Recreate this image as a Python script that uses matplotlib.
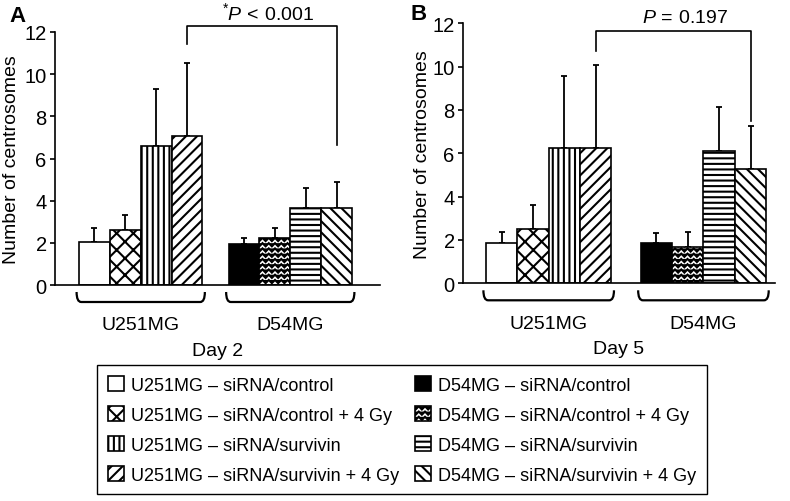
import warnings
import numpy as np
import matplotlib
matplotlib.use("Agg")
import matplotlib.pyplot as plt
import matplotlib.hatch as mhatch
from matplotlib.path import Path
from matplotlib.patches import Patch, PathPatch

warnings.filterwarnings("ignore")

plt.rcParams["font.family"] = ["Liberation Sans", "DejaVu Sans"]
plt.rcParams["mathtext.fontset"] = "custom"
plt.rcParams["mathtext.rm"] = "Liberation Sans"
plt.rcParams["mathtext.it"] = "Liberation Sans:italic"
plt.rcParams["hatch.linewidth"] = 1.5

# data
cell_lines = ["U251MG", "D54MG"]
conditions = ["siRNA/control", "siRNA/control + 4 Gy", "siRNA/survivin", "siRNA/survivin + 4 Gy"]
day2_mean = [2.06, 2.63, 6.59, 7.09, 1.95, 2.25, 3.64, 3.64]
day2_err = [0.63, 0.69, 2.72, 3.45, 0.30, 0.44, 0.98, 1.24]
day5_mean = [1.85, 2.51, 6.25, 6.25, 1.85, 1.66, 6.12, 5.28]
day5_err = [0.53, 1.12, 3.33, 3.83, 0.46, 0.72, 2.00, 1.97]
day_labels = ["Day 2", "Day 5"]
p_texts = [r"$^{*}\mathit{P}\,<\,0.001$", r"$\mathit{P}\,=\,0.197$"]

fills = ["white", "white", "white", "white", "black", "white", "white", "white"]
hatches = ["", "xx", "|||", "///", "", "z", "---", "\\\\\\"]


# zigzag hatch ('z'), not built in to matplotlib
class ZigzagHatch(mhatch.HatchPatternBase):
    def __init__(self, hatch, density):
        self.rows = 19 if "z" in hatch else 0
        self.zigs = 16
        self.num_vertices = self.rows * (2 * self.zigs + 1)

    def set_vertices_and_codes(self, vertices, codes):
        n = 2 * self.zigs + 1
        xs = np.linspace(0, 1, n)
        wig = np.where(np.arange(n) % 2 == 0, 0.016, -0.016)
        for i in range(self.rows):
            y = (i + 0.5) / self.rows
            vertices[i*n:(i+1)*n, 0] = xs
            vertices[i*n:(i+1)*n, 1] = y + wig
            codes[i*n] = Path.MOVETO
            codes[i*n+1:(i+1)*n] = Path.LINETO

mhatch._hatch_types.append(ZigzagHatch)

fig = plt.figure(figsize=(7.9, 5.02), dpi=100)
W, H = 790, 502

def brace(ax, x0, x1):
    h = ax.bbox.height
    ytop, ybot = -7 / h, -17 / h
    r = 0.15
    verts = [(x0, ytop), (x0, ybot), (x0 + r, ybot), (x1 - r, ybot), (x1, ybot), (x1, ytop)]
    codes = [Path.MOVETO, Path.CURVE3, Path.CURVE3, Path.LINETO, Path.CURVE3, Path.CURVE3]
    ax.add_patch(PathPatch(Path(verts, codes), fill=False, lw=1.6, color="black",
                           transform=ax.get_xaxis_transform(), clip_on=False))

def panel(rect, means, errs, offset, xlim, bracket, ptext_xy, ptext, day, ylab_x):
    ax = fig.add_axes(rect)
    x = np.r_[np.arange(4), np.arange(4) + offset]
    bars = ax.bar(x, means, width=1.0, color=fills, edgecolor="black", linewidth=1.2, zorder=2)
    for b, hp in zip(bars, hatches):
        b.set_hatch(hp)
    ax.errorbar(x, means, yerr=[np.zeros(len(errs)), errs], fmt="none", ecolor="black",
                elinewidth=1.3, capsize=2, capthick=1.3, zorder=1)
    ax.set_xlim(*xlim)
    ax.set_ylim(0, 12)
    ax.set_yticks(range(0, 13, 2))
    ax.set_xticks([])
    for s in ["top", "right"]:
        ax.spines[s].set_visible(False)
    ax.spines["left"].set_linewidth(1.2)
    ax.spines["bottom"].set_linewidth(1.2)
    ax.tick_params(axis="y", labelsize=14.5, length=3.5, width=1.2, pad=2.5)
    ax.set_ylabel("Number of centrosomes", fontsize=14)
    ax.yaxis.set_label_coords(ylab_x, 0.5)

    # significance bracket
    yl, yt, yr = bracket
    ax.plot([x[3], x[3], x[7], x[7]], [yl, yt, yt, yr], color="black", lw=1.2, clip_on=False)
    ax.text(ptext_xy[0], ptext_xy[1], ptext, fontsize=14, ha="center", va="center")

    for g in range(2):
        brace(ax, x[4*g] - 0.58, x[4*g + 3] + 0.58)
        ax.annotate(cell_lines[g], xy=((x[4*g] + x[4*g + 3]) / 2, 0),
                    xycoords=("data", "axes fraction"), xytext=(0, -40 * 0.72),
                    textcoords="offset points", ha="center", va="center", fontsize=14)
    ax.annotate(day, xy=(0.5, 0), xycoords="axes fraction", xytext=(0, -65 * 0.72),
                textcoords="offset points", ha="center", va="center", fontsize=14)
    return ax

axA = panel([55 / W, 1 - 286 / H, 325 / W, 253 / H], day2_mean, day2_err, 4.85, (-1.28, 9.26),
            (11.45, 12.3, 6.62), (5.64, 12.95), p_texts[0], day_labels[0], -0.108)
axB = panel([463 / W, 1 - 284.3 / H, 312 / W, 260 / H], day5_mean, day5_err, 4.93, (-1.23, 8.71),
            (10.74, 11.63, 7.5), (5.83, 12.29), p_texts[1], day_labels[1], -0.104)

fig.text(17 / W, 1 - 16 / H, "A", fontsize=16, fontweight="bold", ha="center", va="center")
fig.text(419 / W, 1 - 14 / H, "B", fontsize=16, fontweight="bold", ha="center", va="center")

handles = []
names = []
for i in range(8):
    handles.append(Patch(facecolor=fills[i], edgecolor="black", hatch=hatches[i], linewidth=1.2))
    names.append(cell_lines[i // 4] + " \u2013 " + conditions[i % 4])
leg = fig.legend(handles, names, ncol=2, loc="upper center", bbox_to_anchor=(402 / W, 1 - 366 / H),
                 fontsize=13, frameon=True, fancybox=False, edgecolor="black", framealpha=1,
                 handlelength=0.9, handleheight=0.9, handletextpad=0.35, columnspacing=0.9,
                 labelspacing=0.68, borderpad=0.6, borderaxespad=0)
leg.get_frame().set_linewidth(1.0)

plt.savefig("out.png", dpi=100)
